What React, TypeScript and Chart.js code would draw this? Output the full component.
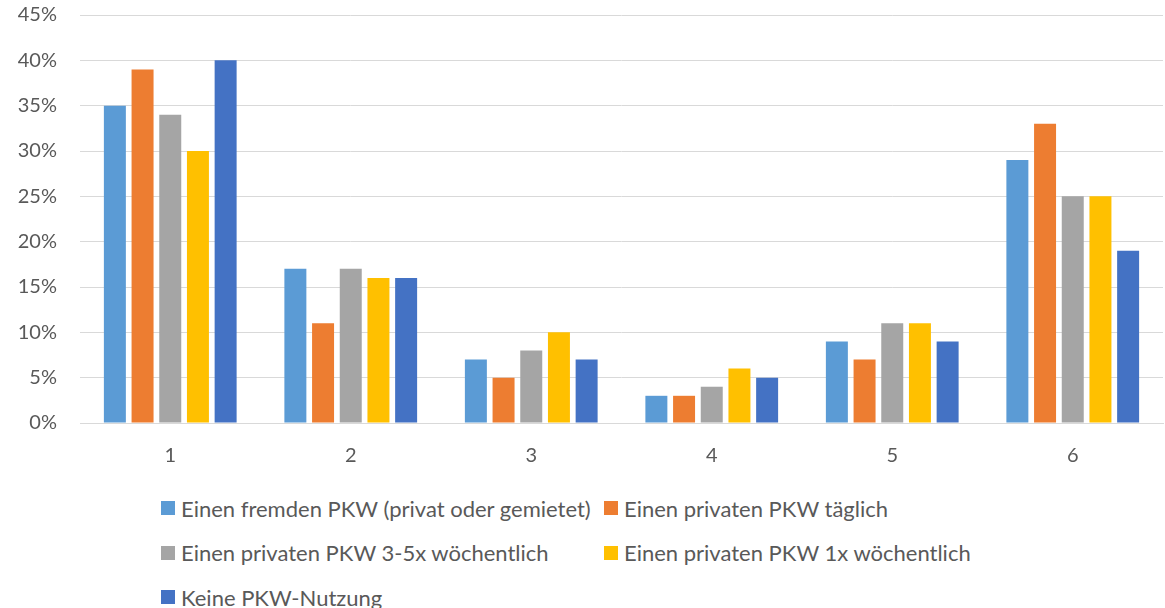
import React, { useEffect, useRef } from "react";
import { Chart, registerables } from "chart.js";

Chart.register(...registerables);

const categories = ["1", "2", "3", "4", "5", "6"];
const seriesNames = [
  "Einen fremden PKW (privat oder gemietet)",
  "Einen privaten PKW täglich",
  "Einen privaten PKW 3-5x wöchentlich",
  "Einen privaten PKW 1x wöchentlich",
  "Keine PKW-Nutzung",
];
const fremdenPkw = [35, 17, 7, 3, 9, 29];
const privatTaeglich = [39, 11, 5, 3, 7, 33];
const privat35x = [34, 17, 8, 4, 11, 25];
const privat1x = [30, 16, 10, 6, 11, 25];
const keineNutzung = [40, 16, 7, 5, 9, 19];
const seriesValues = [fremdenPkw, privatTaeglich, privat35x, privat1x, keineNutzung];
const colors = ["#5B9BD5", "#ED7D31", "#A5A5A5", "#FFC000", "#4472C4"];
const yMax = 45;
const yStep = 5;

const FONT = "Lato, 'Open Sans', sans-serif";
const TEXT = "#595959";

export default function App() {
  const ref = useRef<HTMLCanvasElement | null>(null);

  useEffect(() => {
    if (!ref.current) return;
    const chart = new Chart(ref.current, {
      type: "bar",
      data: {
        labels: categories,
        datasets: seriesNames.map((name, i) => ({
          label: name,
          data: seriesValues[i],
          backgroundColor: colors[i],
          borderWidth: 0,
          categoryPercentage: 0.767,
          barPercentage: 0.794,
        })),
      },
      options: {
        animation: false,
        responsive: false,
        maintainAspectRatio: false,
        layout: { padding: { top: 15, right: 2, left: 0, bottom: 0 } },
        plugins: {
          legend: { display: false },
          tooltip: { enabled: false },
        },
        scales: {
          x: {
            grid: { display: false },
            border: { display: true, color: "#d9d9d9", width: 1 },
            ticks: {
              color: TEXT,
              font: { family: FONT, size: 20 },
              padding: 13,
            },
            afterFit: (s: any) => {
              s.height = 47;
              s.paddingLeft = 0;
              s.paddingRight = 0;
            },
          },
          y: {
            min: 0,
            max: yMax,
            border: { display: false },
            grid: { color: "#d9d9d9", lineWidth: 1, drawTicks: false },
            ticks: {
              stepSize: yStep,
              color: TEXT,
              font: { family: FONT, size: 20 },
              padding: 23,
              callback: (v: any) => `${v}%`,
            },
            afterFit: (s: any) => {
              s.width = 80;
              s.paddingTop = 0;
              s.paddingBottom = 0;
            },
          },
        },
      },
    });
    return () => chart.destroy();
  }, []);

  return (
    <div style={{ position: "absolute", left: 0, top: 0, width: 1165, height: 608, background: "#fff", overflow: "hidden" }}>
      <canvas ref={ref} width={1165} height={470} style={{ display: "block" }} />
      {seriesNames.map((name, i) => {
        const col = i % 2;
        const row = Math.floor(i / 2);
        return (
          <div
            key={name}
            style={{
              position: "absolute",
              left: 161 + col * 443,
              top: 508 + row * 44.5 - 15,
              height: 30,
              display: "flex",
              alignItems: "center",
              fontFamily: FONT,
              fontSize: 22,
              color: TEXT,
              whiteSpace: "nowrap",
            }}
          >
            <span style={{ display: "inline-block", width: 14, height: 14, background: colors[i], marginRight: 6 }} />
            <span>{name}</span>
          </div>
        );
      })}
    </div>
  );
}
